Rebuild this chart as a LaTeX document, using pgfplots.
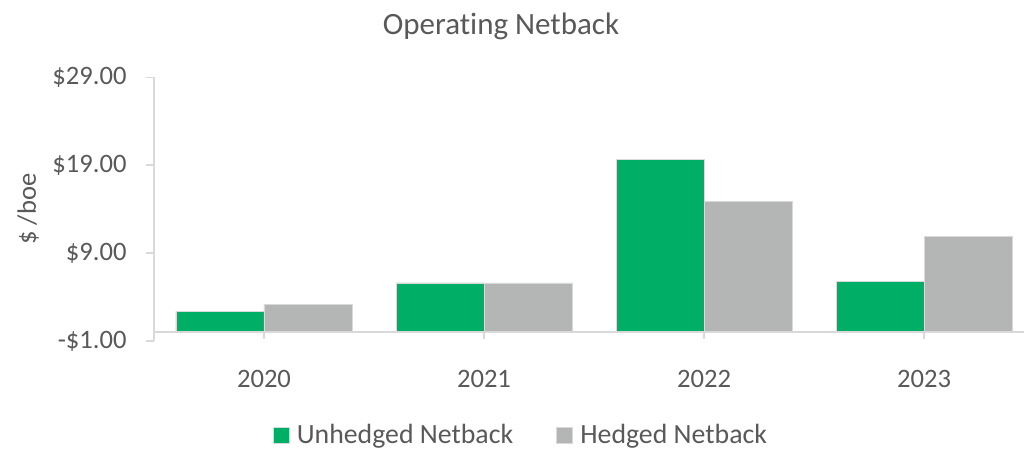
\documentclass[border=0pt]{standalone}
\usepackage{fontspec}
\setmainfont{Carlito}[Ligatures={NoCommon,NoContextual}]
\usepackage{pgfplots}
\pgfplotsset{compat=1.18}
\definecolor{ngreen}{HTML}{00AE66}
\definecolor{ngray}{HTML}{B3B6B5}
\definecolor{axgray}{HTML}{D9D9D9}
\definecolor{txt}{HTML}{595959}
\begin{document}
\begin{tikzpicture}
\path[use as bounding box] (0,0) rectangle (512pt,225.5pt);
\node[text=txt, font=\fontsize{15.5}{18}\selectfont] at (250.5pt,212.4pt) {Operating Netback};
\begin{axis}[
  at={(77pt,55pt)}, anchor=south west,
  scale only axis, width=435pt, height=131.85pt,
  xmin=-0.5, xmax=3.4545, ymin=-1, ymax=29,
  clip=false,
  axis line style={draw=none},
  tick style={draw=none},
  major tick length=0pt,
  xtick={0,1,2,3}, xticklabels={2020,2021,2022,2023},
  ytick={-1,9,19,29}, yticklabels={-\$1.00,\$9.00,\$19.00,\$29.00},
  ticklabel style={text=txt, font=\fontsize{13.3}{16}\selectfont},
  xticklabel style={anchor=center, yshift=-19.2pt},
  yticklabel style={anchor=east, inner sep=0pt, xshift=-13.5pt},
  ylabel={\$ /boe},
  every axis y label/.style={at={(axis description cs:-0.1448,0.5)}, rotate=90, anchor=center, text=txt, font=\fontsize{13.3}{16}\selectfont},
  legend style={at={(axis description cs:0.4247,-0.358)}, anchor=center, draw=none, fill=none,
    legend columns=2, font=\fontsize{13.9}{16}\selectfont, text=txt,
    nodes={inner xsep=3.6pt},
    /tikz/every even column/.append style={column sep=18pt}},
  legend cell align=left,
  legend image code/.code={\fill[#1] (0pt,-4pt) rectangle (8pt,4pt);},
]
\addplot[ybar, bar width=0.4, bar shift=-0.2, fill=ngreen, draw=axgray, line width=0.4pt]
  coordinates {(0,2.37) (1,5.6) (2,19.62) (3,5.82)};
\addlegendentry{Unhedged Netback}
\addplot[ybar, bar width=0.4, bar shift=0.2, fill=ngray, draw=axgray, line width=0.4pt]
  coordinates {(0,3.2) (1,5.6) (2,14.92) (3,10.9)};
\addlegendentry{Hedged Netback}
\draw[axgray, line width=0.75pt] (axis cs:-0.5,29) -- (axis cs:-0.5,-1);
\draw[axgray, line width=0.75pt] (axis cs:-0.5,0) -- (axis cs:3.4545,0);
\pgfplotsinvokeforeach{-1,9,19,29}{\draw[axgray, line width=0.75pt] (axis cs:-0.5,#1) -- ([xshift=-4pt]axis cs:-0.5,#1);}
\pgfplotsinvokeforeach{0,1,2,3}{\draw[axgray, line width=0.75pt] (axis cs:#1,0) -- ([yshift=-3.5pt]axis cs:#1,0);}
\end{axis}
\end{tikzpicture}
\end{document}
